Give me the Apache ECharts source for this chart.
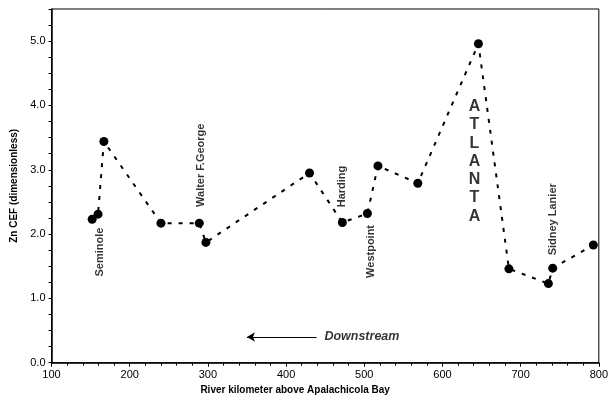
<!DOCTYPE html>
<html>
<head>
<meta charset="utf-8">
<script src="https://cdn.jsdelivr.net/npm/echarts@6/dist/echarts.min.js"></script>
<style>
  html, body { margin: 0; padding: 0; background: #fff; }
  #chart { width: 611px; height: 402px; }
</style>
</head>
<body>
<div id="chart"></div>
<script>
// river km / Zn CEF
var riverKm = [152, 159.5, 167, 240, 289, 297.5, 430, 472, 504, 517.5, 568.5, 646, 685, 735.5, 741, 793];
var znCef = [2.23, 2.31, 3.44, 2.17, 2.17, 1.87, 2.95, 2.18, 2.32, 3.06, 2.79, 4.96, 1.46, 1.23, 1.47, 1.83];

// dam / city labels
var damNames = ['Seminole', 'Walter F.George', 'Harding', 'Westpoint', 'Sidney Lanier'];
var damKm = [161.7, 291, 471, 508, 741.5];
var damCef = [1.72, 3.07, 2.74, 1.73, 2.23];

var cityName = 'ATLANTA';
var cityKm = 641;
var cityCef = 3.13;

var arrowFrom = [439, 0.4];
var arrowTo = [350, 0.4];
var arrowText = 'Downstream';
var arrowTextKm = 497;

var chart = echarts.init(document.getElementById('chart'), null, { renderer: 'canvas' });

var pts = [];
for (var i = 0; i < riverKm.length; i++) pts.push([riverKm[i], znCef[i]]);

var damPts = [];
for (var j = 0; j < damNames.length; j++) damPts.push({ value: [damKm[j], damCef[j]], name: damNames[j] });

var font = 'Liberation Sans, Arial, sans-serif';

var option = {
  animation: false,
  textStyle: { fontFamily: font },
  grid: {
    left: 51.5, right: 9.3, top: 9, bottom: 39.3,
    show: true, borderColor: '#000', borderWidth: 1
  },
  xAxis: {
    type: 'value', min: 100, max: 800, interval: 100,
    name: 'River kilometer above Apalachicola Bay',
    nameLocation: 'middle', nameGap: 22,
    nameTextStyle: { fontSize: 10, fontWeight: 'bold', color: '#000', padding: [0, 60, 0, 0] },
    axisLine: { lineStyle: { color: '#000', width: 1.5 } },
    axisTick: { length: 4, lineStyle: { color: '#000' } },
    minorTick: { show: true, splitNumber: 5, length: 3, lineStyle: { color: '#000' } },
    axisLabel: { fontSize: 11, color: '#000', margin: 7 },
    splitLine: { show: false }
  },
  yAxis: {
    type: 'value', min: 0, max: 5.5, interval: 1,
    name: 'Zn CEF (dimensionless)',
    nameLocation: 'middle', nameGap: 30,
    nameTextStyle: { fontSize: 10, fontWeight: 'bold', color: '#000' },
    axisLine: { lineStyle: { color: '#000', width: 1.5 } },
    axisTick: { length: 3, lineStyle: { color: '#000' } },
    minorTick: { show: true, splitNumber: 4, length: 3, lineStyle: { color: '#000' } },
    axisLabel: {
      fontSize: 11, color: '#000', margin: 6, showMaxLabel: false,
      formatter: function (v) { return v > 5 ? '' : v.toFixed(1); }
    },
    splitLine: { show: false }
  },
  series: [
    {
      type: 'line',
      data: pts,
      symbol: 'circle',
      symbolSize: 9,
      itemStyle: { color: '#000' },
      lineStyle: { color: '#000', width: 2, type: [4, 7] },
      z: 3
    },
    {
      type: 'scatter',
      data: damPts,
      symbolSize: 0,
      silent: true,
      label: {
        show: true, position: 'inside', rotate: 90,
        formatter: '{b}', fontSize: 11, fontWeight: 'bold', color: '#000'
      }
    },
    {
      type: 'scatter',
      data: [{ value: [cityKm, cityCef], name: cityName.split('').join('\n') }],
      symbolSize: 0,
      silent: true,
      label: {
        show: true, position: 'inside', formatter: '{b}',
        fontSize: 16, fontWeight: 'bold', color: '#000', lineHeight: 18.3
      }
    },
    {
      type: 'scatter',
      data: [{ value: [arrowTextKm, arrowFrom[1]], name: arrowText }],
      symbolSize: 0,
      silent: true,
      label: {
        show: true, position: 'inside', formatter: '{b}',
        fontSize: 12.5, fontWeight: 'bold', fontStyle: 'italic', color: '#000'
      },
      markLine: {
        silent: true,
        symbol: ['none', 'arrow'],
        symbolSize: [7, 8],
        label: { show: false },
        lineStyle: { color: '#000', width: 1, type: 'solid' },
        data: [[{ coord: arrowFrom }, { coord: arrowTo }]]
      }
    }
  ]
};

chart.setOption(option);
</script>
</body>
</html>
